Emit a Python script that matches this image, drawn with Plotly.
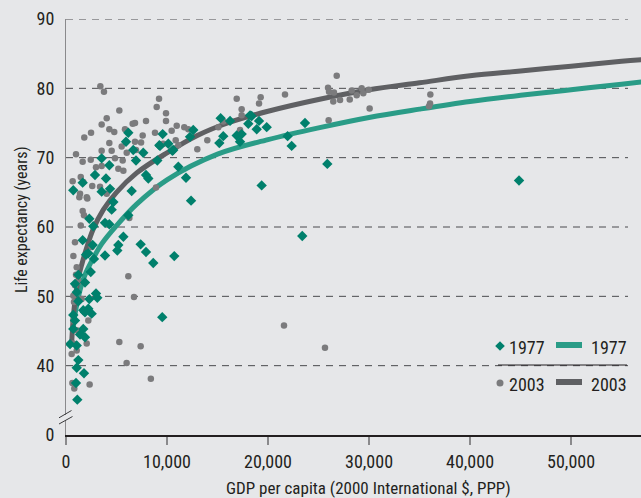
import plotly.graph_objects as go

# ---------------- data ----------------
gdp_2003 = [3400, 3760, 26800, 25940, 26040, 26530, 26460, 27130, 28090, 28280,
            28780, 29270, 29430, 29970, 30060, 26000, 36070, 36040, 35940, 21680,
            19270, 19110, 21580, 25640, 6170, 6730, 5280, 7390, 6000, 8400,
            2340, 2050, 630, 820, 9210, 8980, 9900, 9900, 7920, 10960,
            10460, 11710, 12110, 8810, 7590, 6830, 7430, 10860, 9630, 13990,
            13000, 11120, 6830, 6930, 8910, 15080, 15570, 16900, 17390, 17390,
            17230, 5280, 4030, 3530, 4290, 4780, 6600, 2480, 1810, 4290,
            5840, 5510, 3530, 4520, 990, 1650, 2450, 4850, 5610, 6010,
            2970, 3530, 5180, 5680, 660, 1460, 1710, 2600, 1390, 2050,
            3370, 4030, 1320, 2110, 1650, 1780, 1460, 890, 2540, 730,
            6270, 990, 890, 730, 1550, 720, 560, 1060, 720, 1060,
            2210, 1060, 1220, 790]
life_2003 = [80.3, 79.5, 81.8, 80.1, 79.5, 79.4, 78.1, 78.3, 78.4, 79.7,
             79.0, 80.0, 79.3, 79.8, 77.1, 75.4, 79.1, 77.8, 77.4, 79.1,
             78.7, 77.8, 45.8, 42.6, 52.9, 49.9, 43.4, 42.8, 40.4, 38.1,
             37.3, 43.2, 37.5, 36.7, 78.5, 77.3, 76.4, 75.3, 75.3, 74.6,
             73.9, 74.4, 74.1, 73.6, 73.2, 75.0, 72.2, 72.5, 72.0, 72.5,
             71.2, 71.8, 72.3, 71.1, 65.7, 74.4, 75.2, 78.5, 77.0, 76.1,
             74.0, 76.8, 75.7, 74.8, 74.1, 73.7, 74.9, 73.6, 72.9, 72.1,
             74.1, 71.6, 71.0, 71.0, 70.5, 69.4, 69.7, 69.9, 69.6, 70.7,
             68.6, 68.8, 68.4, 68.1, 66.6, 67.2, 66.5, 65.9, 64.8, 64.3,
             65.8, 64.8, 64.3, 64.1, 62.3, 61.7, 60.2, 57.8, 57.1, 55.8,
             61.3, 53.1, 51.6, 50.1, 49.6, 43.2, 41.7, 42.2, 46.5, 45.1,
             46.5, 54.2, 52.1, 49.2]

gdp_1977 = [44850, 25870, 23390, 21940, 22340, 23660, 19370, 19110, 18880, 19870,
            18220, 720, 1650, 2870, 3530, 4290, 3530, 3960, 4360, 4690,
            4520, 2310, 2700, 3860, 4290, 1650, 2640, 2210, 3860, 5680,
            5180, 5080, 7390, 7920, 8640, 10720, 6170, 6500, 7650, 7920,
            8150, 9040, 9310, 9570, 6170, 5940, 6660, 10130, 10620, 11120,
            11880, 12380, 12600, 12280, 15310, 15570, 15180, 16240, 16900, 17230,
            17390, 18050, 18380, 9530, 1980, 2770, 2450, 1220, 890, 1880,
            2970, 3100, 2310, 1060, 1220, 2210, 1710, 720, 1880, 2540,
            1710, 1390, 1880, 400, 1060, 1220, 1060, 1780, 990, 1120,
            890, 720, 6930, 9240, 10530]
life_1977 = [66.7, 69.1, 58.7, 73.1, 71.7, 75.0, 66.0, 75.3, 74.1, 74.4,
             76.1, 65.3, 66.4, 67.5, 69.9, 68.9, 65.1, 67.0, 65.5, 63.6,
             62.5, 61.2, 60.1, 60.6, 60.4, 58.1, 57.4, 56.2, 55.9, 58.6,
             57.4, 56.6, 57.5, 56.4, 54.8, 55.8, 61.7, 65.2, 70.7, 67.5,
             67.0, 69.6, 71.7, 73.4, 73.6, 72.3, 71.1, 72.0, 71.1, 68.7,
             67.1, 63.8, 74.0, 73.0, 75.7, 73.1, 72.1, 75.3, 73.2, 72.3,
             73.4, 74.9, 76.0, 47.0, 56.0, 55.4, 53.5, 53.1, 51.8, 52.0,
             50.4, 49.8, 49.6, 50.6, 49.3, 48.2, 48.0, 47.3, 47.7, 47.5,
             45.3, 44.5, 44.1, 43.1, 42.9, 40.8, 39.7, 38.9, 37.5, 35.1,
             46.5, 45.3, 69.6, 71.8, 71.0]

# trend curves
trend_gdp_1977 = [700, 1000, 1500, 2000, 2700, 3500, 5000, 7000, 10000, 15000,
                  20000, 25000, 30000, 35000, 40000, 45000, 50000, 55000, 57500]
trend_life_1977 = [45.5, 48.3, 51.5, 53.5, 55.5, 57.5, 60.2, 63.3, 66.8, 70.5,
                   72.6, 74.3, 75.8, 77.0, 78.1, 79.0, 79.8, 80.6, 81.0]
trend_gdp_2003 = [550, 700, 900, 1200, 1600, 2000, 2700, 3700, 5000, 7000,
                  10000, 13000, 16000, 20000, 25000, 30000, 35000, 40000, 45000,
                  50000, 55000, 57500]
trend_life_2003 = [43.0, 46.5, 49.5, 52.5, 54.8, 56.8, 59.7, 62.5, 65.0, 67.8,
                   70.7, 73.2, 75.0, 76.7, 78.4, 79.8, 80.8, 81.8, 82.5,
                   83.2, 83.9, 84.2]

y_tickvals = [30, 40, 50, 60, 70, 80, 90]
y_ticktext = ["0", "40", "50", "60", "70", "80", "90"]
x_tickvals = [0, 10000, 20000, 30000, 40000, 50000]
x_ticktext = ["0", "10,000", "20,000", "30,000", "40,000", "50,000"]
grid_levels = [40, 50, 60, 70, 80, 90]

# ---------------- style ----------------
FONT = "Roboto Condensed, Roboto, Liberation Sans, sans-serif"
BG = "#e6e7e9"
TEAL_MK = "#00806c"
TEAL_LN = "#2a9c87"
GRAY_MK = "#7b7b7d"
GRAY_LN = "#5f6063"
TXT = "#231f20"

fig = go.Figure()
fig.add_trace(go.Scatter(x=trend_gdp_1977, y=trend_life_1977, mode="lines",
                         line=dict(color=TEAL_LN, width=5, shape="spline"),
                         showlegend=False, hoverinfo="skip"))
fig.add_trace(go.Scatter(x=trend_gdp_2003, y=trend_life_2003, mode="lines",
                         line=dict(color=GRAY_LN, width=5, shape="spline"),
                         showlegend=False, hoverinfo="skip"))
fig.add_trace(go.Scatter(x=gdp_2003, y=life_2003, mode="markers",
                         marker=dict(symbol="circle", size=6.5, color=GRAY_MK),
                         showlegend=False))
fig.add_trace(go.Scatter(x=gdp_1977, y=life_1977, mode="markers",
                         marker=dict(symbol="diamond", size=8, color=TEAL_MK),
                         showlegend=False))

L, T, W, H = 66, 19, 641, 498
PW = W - L
PH = 435 - T


def px(xp):
    return (xp - L) / PW


def py(yp):
    return (435 - yp) / PH


shapes = []
for g in grid_levels:
    shapes.append(dict(type="line", xref="paper", yref="y", x0=0, x1=px(628),
                       y0=g, y1=g, layer="below",
                       line=dict(color="#4a4b4e", width=1, dash="7px,6px")))
# axis break
shapes.append(dict(type="rect", xref="paper", yref="paper", x0=px(63), x1=px(68),
                   y0=py(420), y1=py(415), fillcolor=BG, line=dict(width=0),
                   layer="above"))
shapes.append(dict(type="line", xref="paper", yref="paper", x0=px(59), x1=px(71.5),
                   y0=py(417.8), y1=py(410.5), line=dict(color="#3a3a3c", width=1)))
shapes.append(dict(type="line", xref="paper", yref="paper", x0=px(59), x1=px(72.5),
                   y0=py(424), y1=py(416.5), line=dict(color="#3a3a3c", width=1)))
# legend swatches
dx, dy = 4.8, 4.8
shapes.append(dict(type="path", xref="paper", yref="paper",
                   path=f"M {px(500-dx)} {py(346)} L {px(500)} {py(346-dy)} L {px(500+dx)} {py(346)} L {px(500)} {py(346+dy)} Z",
                   fillcolor=TEAL_MK, line=dict(width=0)))
shapes.append(dict(type="line", xref="paper", yref="paper", x0=px(556), x1=px(582),
                   y0=py(345), y1=py(345), line=dict(color=TEAL_LN, width=6)))
shapes.append(dict(type="line", xref="paper", yref="paper", x0=px(498), x1=px(627),
                   y0=py(365), y1=py(365), line=dict(color=TXT, width=1)))
shapes.append(dict(type="circle", xref="paper", yref="paper", x0=px(496.5), x1=px(503.5),
                   y0=py(386.5), y1=py(379.5), fillcolor=GRAY_MK, line=dict(width=0)))
shapes.append(dict(type="line", xref="paper", yref="paper", x0=px(556), x1=px(582),
                   y0=py(382), y1=py(382), line=dict(color=GRAY_LN, width=6)))

LEG = 18
annotations = [
    dict(text="1977", x=px(507), y=py(347), xref="paper", yref="paper",
         xanchor="left", yanchor="middle", showarrow=False, font=dict(size=LEG, color=TXT)),
    dict(text="1977", x=px(589), y=py(347), xref="paper", yref="paper",
         xanchor="left", yanchor="middle", showarrow=False, font=dict(size=LEG, color=TXT)),
    dict(text="2003", x=px(507), y=py(384), xref="paper", yref="paper",
         xanchor="left", yanchor="middle", showarrow=False, font=dict(size=LEG, color=TXT)),
    dict(text="2003", x=px(589), y=py(384), xref="paper", yref="paper",
         xanchor="left", yanchor="middle", showarrow=False, font=dict(size=LEG, color=TXT)),
    dict(text="GDP per capita (2000 International $, PPP)", x=px(368), y=py(488),
         xref="paper", yref="paper", xanchor="center", yanchor="middle",
         showarrow=False, font=dict(size=17, color=TXT)),
    dict(text="Life expectancy (years)", x=px(22), y=py(220), textangle=-90,
         xref="paper", yref="paper", xanchor="center", yanchor="middle",
         showarrow=False, font=dict(size=16, color=TXT)),
]

fig.update_layout(
    width=W, height=H,
    margin=dict(l=L, r=0, t=T, b=H - 435, pad=0),
    paper_bgcolor=BG, plot_bgcolor=BG,
    font=dict(family=FONT, size=18, color=TXT),
    showlegend=False,
    shapes=shapes, annotations=annotations,
    xaxis=dict(range=[0, PW * 99.0], tickvals=x_tickvals, ticktext=x_ticktext,
               showgrid=False, zeroline=False, showline=True, linecolor=TXT,
               linewidth=1.5, ticks="outside", ticklen=8, tickwidth=1.5,
               tickcolor="#8a8a8c", ticklabelstandoff=2,
               tickfont=dict(size=18, color=TXT)),
    yaxis=dict(range=[30, 90], tickvals=y_tickvals, ticktext=y_ticktext,
               showgrid=False, zeroline=False, showline=True, linecolor="#8a8a8c",
               linewidth=1.2, ticks="", ticklabelstandoff=7,
               tickfont=dict(size=18, color=TXT)),
)

fig.write_html("out.html",
               config={"displayModeBar": False},
               post_script="document.body.style.margin='0px';"
                           "document.body.style.background='" + BG + "';"
                           "document.body.style.overflow='hidden';")
